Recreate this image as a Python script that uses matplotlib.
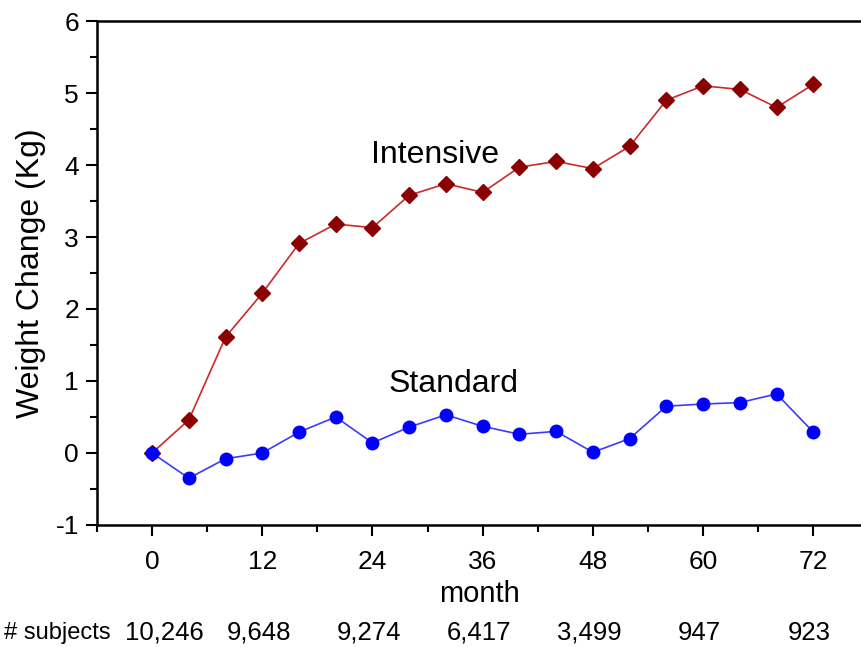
import matplotlib
matplotlib.use('Agg')
import matplotlib.pyplot as plt
from matplotlib.ticker import MultipleLocator

plt.rcParams['font.family'] = ['Liberation Sans', 'DejaVu Sans']
plt.rcParams['axes.unicode_minus'] = False

# ===== data =====
months = [0, 4, 8, 12, 16, 20, 24, 28, 32, 36, 40, 44, 48, 52, 56, 60, 64, 68, 72]
intensive = [0.0, 0.46, 1.61, 2.22, 2.91, 3.18, 3.13, 3.58, 3.74, 3.62, 3.97, 4.05,
             3.95, 4.26, 4.90, 5.10, 5.05, 4.80, 5.12]
standard = [0.0, -0.35, -0.08, 0.0, 0.29, 0.50, 0.14, 0.36, 0.53, 0.37, 0.26, 0.30,
            0.01, 0.20, 0.65, 0.68, 0.70, 0.82, 0.29]
tick_months = [0, 12, 24, 36, 48, 60, 72]
subjects = ['10,246', '9,648', '9,274', '6,417', '3,499', '947', '923']

fig = plt.figure(figsize=(8.62, 6.47), dpi=100)
ax = fig.add_axes([0.1125, 0.1886, 0.8875, 0.7789])

ax.plot(months, intensive, color='#cc2a2a', lw=1.2, marker='D', ms=8,
        mfc='#8b0000', mec='#8b0000')
ax.plot(months, standard, color='#3b3bff', lw=1.2, marker='o', ms=9,
        mfc='#0000ff', mec='#0000ff')

ax.text(30.8, 4.14, 'Intensive', fontsize=23, ha='center', va='center')
ax.text(32.8, 0.96, 'Standard', fontsize=23, ha='center', va='center')

ax.set_xlim(-6, 77.3)
ax.set_ylim(-1, 6)
ax.set_xticks(tick_months)
ax.xaxis.set_minor_locator(MultipleLocator(6))
ax.yaxis.set_major_locator(MultipleLocator(1))
ax.yaxis.set_minor_locator(MultipleLocator(0.5))
ax.tick_params(which='major', direction='out', length=8, width=1.5, labelsize=19, pad=10)
ax.tick_params(which='minor', direction='out', length=5, width=1.5)
ax.tick_params(axis='y', pad=5)

ax.spines['right'].set_visible(False)
for s in ['left', 'bottom', 'top']:
    ax.spines[s].set_linewidth(1.8)

ax.set_xlabel('month', fontsize=21, labelpad=4)
ax.set_ylabel('Weight Change (Kg)', fontsize=23, labelpad=7)

# number of subjects row under the axis
trans = ax.get_xaxis_transform()
for i, (m, n) in enumerate(zip(tick_months, subjects)):
    nudge = 1.3 if i == 0 else -0.4  # first count sits a bit right of its tick
    ax.text(m + nudge, -0.214, n, transform=trans, fontsize=18.5, ha='center',
            va='center', clip_on=False)
fig.text(111 / 862, 1 - 633 / 647, '# subjects', fontsize=17, ha='right', va='center')

fig.savefig('out.png', dpi=100)
